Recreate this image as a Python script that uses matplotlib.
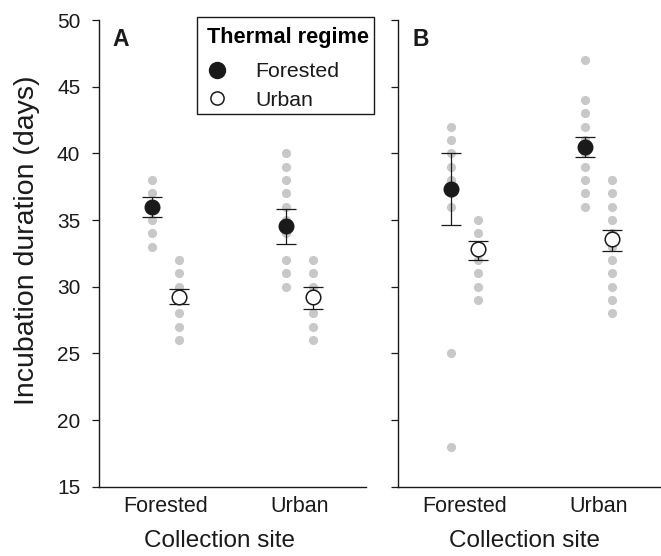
import numpy as np
import matplotlib
matplotlib.use("Agg")
import matplotlib.pyplot as plt
from matplotlib.lines import Line2D
from matplotlib.patches import Rectangle

plt.rcParams['font.family'] = ['Liberation Sans', 'DejaVu Sans']

# ---------------- data ----------------
sites = ['Forested', 'Urban']          # collection site (x categories)
regimes = ['Forested', 'Urban']        # thermal regime (series)

# Panel A: individual observations (grey dots)
a_forreg_dots = [[38, 37, 36, 35, 34, 33],
                 [40, 39, 38, 37, 36, 35, 34, 32, 31, 30]]
a_urbreg_dots = [[32, 31, 30, 29, 28, 27, 26],
                 [32, 31, 30, 29, 28, 27, 26]]
# Panel A: means and error limits
a_forreg_mean = [36.0, 34.55]
a_forreg_lo = [35.2, 33.2]
a_forreg_hi = [36.7, 35.8]
a_urbreg_mean = [29.25, 29.2]
a_urbreg_lo = [28.7, 28.3]
a_urbreg_hi = [29.8, 30.0]

# Panel B: individual observations
b_forreg_dots = [[42, 41, 40, 39, 38, 37, 36, 25, 18],
                 [47, 44, 43, 42, 41, 40, 39, 38, 37, 36]]
b_urbreg_dots = [[35, 34, 33, 32, 31, 30, 29],
                 [38, 37, 36, 35, 34, 33, 32, 31, 30, 29, 28]]
# Panel B: means and error limits
b_forreg_mean = [37.35, 40.5]
b_forreg_lo = [34.65, 39.75]
b_forreg_hi = [40.0, 41.2]
b_urbreg_mean = [32.8, 33.55]
b_urbreg_lo = [32.0, 32.7]
b_urbreg_hi = [33.4, 34.25]

yticks = [15, 20, 25, 30, 35, 40, 45, 50]

# ---------------- figure ----------------
W, H = 661, 556
fig = plt.figure(figsize=(W / 100, H / 100), dpi=100)

def px_axes(left, top, width, height):
    return fig.add_axes([left / W, 1 - (top + height) / H, width / W, height / H])

axA = px_axes(99, 20, 267, 466.7)
axB = px_axes(398, 20, 267, 466.7)

DOT = '#c8c8c8'
OFF = 0.1

def draw_panel(ax, fdots, udots, fm, flo, fhi, um, ulo, uhi):
    xs = np.arange(1, len(sites) + 1)
    for i, x in enumerate(xs):
        ax.plot(np.full(len(fdots[i]), x - OFF), fdots[i], 'o', color=DOT,
                ms=6.6, mec='none', zorder=1)
        ax.plot(np.full(len(udots[i]), x + OFF), udots[i], 'o', color=DOT,
                ms=6.6, mec='none', zorder=1)
    fm = np.array(fm); um = np.array(um)
    ferr = [fm - np.array(flo), np.array(fhi) - fm]
    uerr = [um - np.array(ulo), np.array(uhi) - um]
    ax.errorbar(xs - OFF, fm, yerr=ferr, fmt='none', ecolor='#1a1a1a',
                elinewidth=0.9, capsize=7.5, capthick=0.9, zorder=2)
    ax.errorbar(xs + OFF, um, yerr=uerr, fmt='none', ecolor='#1a1a1a',
                elinewidth=0.9, capsize=7.5, capthick=0.9, zorder=2)
    ax.plot(xs - OFF, fm, 'o', color='#1a1a1a', ms=10.5, mec='#1a1a1a', zorder=3)
    ax.plot(xs + OFF, um, 'o', mfc='white', mec='#1a1a1a', ms=10.5, mew=1.1, zorder=3)

    ax.set_xlim(0.5, 2.5)
    ax.set_ylim(15, 50)
    ax.set_yticks(yticks)
    ax.set_xticks(xs)
    ax.set_xticklabels(sites)
    for s in ['top', 'right']:
        ax.spines[s].set_visible(False)
    for s in ['left', 'bottom']:
        ax.spines[s].set_linewidth(1.0)
        ax.spines[s].set_color('#1a1a1a')
    ax.tick_params(axis='y', direction='out', length=5, width=0.9,
                   labelsize=15, pad=8.5, colors='#1a1a1a')
    ax.tick_params(axis='x', length=0, labelsize=15.5, pad=7, colors='#1a1a1a')
    ax.set_xlabel('Collection site', fontsize=17.5, color='#1a1a1a', va='top')
    ax.patch.set_visible(False)

draw_panel(axA, a_forreg_dots, a_urbreg_dots, a_forreg_mean, a_forreg_lo,
           a_forreg_hi, a_urbreg_mean, a_urbreg_lo, a_urbreg_hi)
draw_panel(axB, b_forreg_dots, b_urbreg_dots, b_forreg_mean, b_forreg_lo,
           b_forreg_hi, b_urbreg_mean, b_urbreg_lo, b_urbreg_hi)

axB.set_yticklabels([])
axA.xaxis.set_label_coords(0.453, -0.092)
axB.xaxis.set_label_coords(0.472, -0.092)

axA.set_ylabel('Incubation duration (days)', fontsize=20.5, color='#1a1a1a',
               va='center')
axA.yaxis.set_label_coords(-0.27, 0.529)

axA.text(0.051, 0.945, 'A', transform=axA.transAxes, fontsize=16.5,
         fontweight='bold', va='baseline', ha='left', color='#1a1a1a')
axB.text(0.056, 0.945, 'B', transform=axB.transAxes, fontsize=16.5,
         fontweight='bold', va='baseline', ha='left', color='#1a1a1a')

# legend frame (box in figure pixels)
fig.patches.append(Rectangle((197 / W, 1 - 114 / H), 177 / W, 97 / H,
                             transform=fig.transFigure, fill=True,
                             facecolor='white', edgecolor='#1a1a1a',
                             linewidth=1.0, zorder=5))

handles = [Line2D([], [], ls='none', marker='o', color='#1a1a1a', ms=11.5),
           Line2D([], [], ls='none', marker='o', mfc='white', mec='#1a1a1a',
                  ms=9.5, mew=1.1)]
leg = fig.legend(handles, regimes, loc='upper left',
                 bbox_to_anchor=(197 / W, 1 - 17 / H),
                 bbox_transform=fig.transFigure, borderaxespad=0,
                 title='Thermal regime',
                 title_fontproperties={'weight': 'bold', 'size': 15.7},
                 fontsize=15.3, frameon=False, borderpad=0.45,
                 handlelength=1.0, handletextpad=1.28, labelspacing=0.45,
                 alignment='left')
leg.set_zorder(6)
leg._legend_box.sep = 10.5
for t in leg.get_texts():
    t.set_color('#1a1a1a')

fig.savefig('out.png', dpi=100)
